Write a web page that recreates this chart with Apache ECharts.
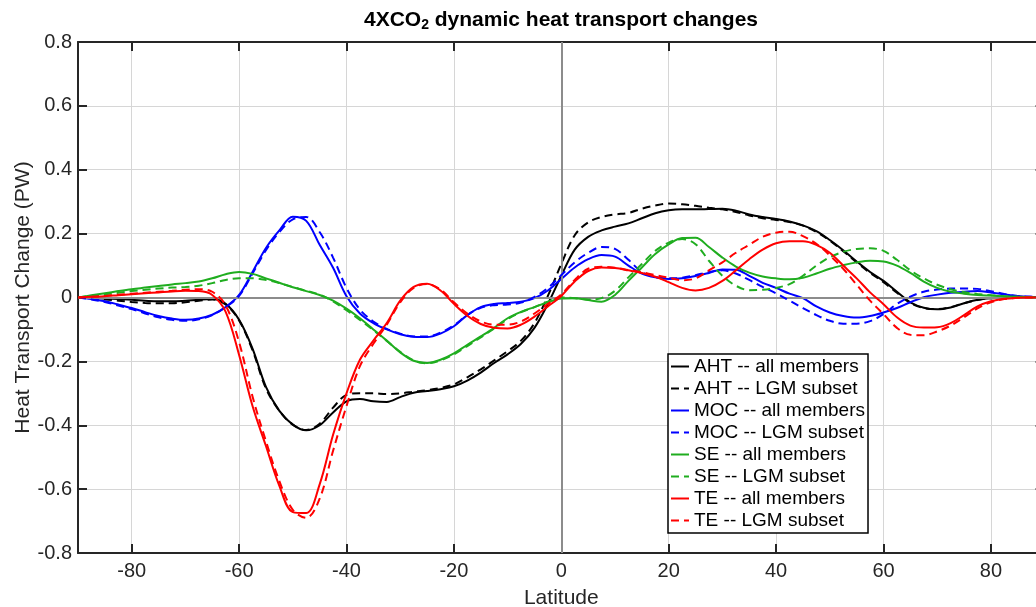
<!DOCTYPE html>
<html>
<head>
<meta charset="utf-8">
<script src="https://cdn.jsdelivr.net/npm/echarts@6/dist/echarts.min.js"></script>
<style>
html,body{margin:0;padding:0;overflow:hidden;background:#fff;}
#chart{width:1050px;height:607px;}
</style>
</head>
<body>
<div id="chart"></div>
<script>
// Latitude grid (degrees)
const latitudes = [-90,-87.5,-85,-82.5,-80,-77.5,-75,-72.5,-70,-67.5,-65,-62.5,-60,-57.5,-55,-52.5,-50,-47.5,-45,-42.5,-40,-37.5,-35,-32.5,-30,-27.5,-25,-22.5,-20,-17.5,-15,-12.5,-10,-7.5,-5,-2.5,0,2.5,5,7.5,10,12.5,15,17.5,20,22.5,25,27.5,30,32.5,35,37.5,40,42.5,45,47.5,50,52.5,55,57.5,60,62.5,65,67.5,70,72.5,75,77.5,80,82.5,85,87.5,90];

const ahtAll = [0,-0.001,-0.003,-0.005,-0.007,-0.010,-0.012,-0.012,-0.010,-0.007,-0.005,-0.02,-0.07,-0.16,-0.28,-0.355,-0.398,-0.416,-0.400,-0.36,-0.325,-0.318,-0.325,-0.327,-0.312,-0.298,-0.293,-0.287,-0.278,-0.26,-0.235,-0.205,-0.178,-0.145,-0.095,-0.02,0.068,0.15,0.19,0.21,0.222,0.232,0.248,0.264,0.273,0.276,0.276,0.277,0.278,0.272,0.26,0.252,0.246,0.238,0.226,0.208,0.18,0.148,0.113,0.08,0.052,0.018,-0.015,-0.032,-0.037,-0.031,-0.018,-0.007,-0.002,0,0,0,0];
const ahtLgm = [0,-0.002,-0.006,-0.01,-0.014,-0.017,-0.018,-0.018,-0.015,-0.01,-0.006,-0.022,-0.072,-0.165,-0.285,-0.355,-0.398,-0.415,-0.395,-0.345,-0.305,-0.3,-0.3,-0.302,-0.3,-0.295,-0.29,-0.283,-0.272,-0.25,-0.225,-0.197,-0.168,-0.135,-0.08,0.005,0.105,0.195,0.235,0.252,0.26,0.265,0.278,0.288,0.294,0.292,0.287,0.281,0.276,0.268,0.257,0.248,0.243,0.236,0.225,0.205,0.178,0.145,0.11,0.077,0.048,0.015,-0.017,-0.033,-0.036,-0.03,-0.018,-0.008,-0.002,0,0,0,0];
const mocAll = [0,-0.005,-0.012,-0.022,-0.033,-0.046,-0.058,-0.066,-0.07,-0.066,-0.054,-0.03,0.008,0.08,0.155,0.21,0.253,0.24,0.165,0.093,0.004,-0.05,-0.08,-0.1,-0.115,-0.123,-0.124,-0.113,-0.09,-0.055,-0.03,-0.02,-0.017,-0.013,-0.002,0.022,0.058,0.094,0.12,0.133,0.128,0.1,0.075,0.063,0.058,0.06,0.067,0.077,0.088,0.087,0.068,0.046,0.03,0.012,-0.002,-0.028,-0.047,-0.058,-0.063,-0.058,-0.047,-0.033,-0.015,0.001,0.009,0.015,0.018,0.02,0.016,0.01,0.005,0.002,0];
const mocLgm = [0,-0.006,-0.014,-0.025,-0.036,-0.05,-0.062,-0.07,-0.073,-0.068,-0.055,-0.03,0.005,0.075,0.148,0.205,0.245,0.252,0.205,0.125,0.03,-0.038,-0.075,-0.098,-0.113,-0.122,-0.122,-0.11,-0.087,-0.055,-0.032,-0.024,-0.022,-0.016,0.002,0.03,0.07,0.11,0.14,0.158,0.152,0.118,0.08,0.064,0.06,0.062,0.07,0.08,0.085,0.075,0.055,0.033,0.013,-0.01,-0.033,-0.055,-0.073,-0.082,-0.082,-0.074,-0.052,-0.02,0.003,0.018,0.025,0.028,0.028,0.027,0.02,0.011,0.005,0.002,0];
const seAll = [0,0.007,0.0135,0.02,0.026,0.031,0.036,0.041,0.045,0.05,0.06,0.073,0.08,0.074,0.06,0.046,0.032,0.02,0.008,-0.01,-0.035,-0.065,-0.1,-0.135,-0.172,-0.198,-0.205,-0.195,-0.175,-0.148,-0.122,-0.095,-0.065,-0.045,-0.03,-0.015,-0.003,-0.002,-0.008,-0.013,0.008,0.052,0.094,0.136,0.166,0.186,0.187,0.158,0.125,0.097,0.078,0.066,0.06,0.057,0.062,0.075,0.09,0.101,0.11,0.115,0.113,0.1,0.077,0.05,0.03,0.018,0.012,0.008,0.006,0.004,0.002,0.001,0];
const seLgm = [0,0.005,0.01,0.015,0.02,0.024,0.028,0.031,0.033,0.037,0.045,0.055,0.06,0.06,0.055,0.045,0.033,0.021,0.009,-0.012,-0.04,-0.07,-0.102,-0.136,-0.17,-0.197,-0.206,-0.197,-0.178,-0.152,-0.125,-0.097,-0.068,-0.046,-0.03,-0.013,0.0,-0.002,-0.006,-0.002,0.021,0.063,0.105,0.146,0.172,0.183,0.167,0.115,0.068,0.037,0.023,0.024,0.03,0.042,0.068,0.1,0.126,0.143,0.152,0.154,0.146,0.118,0.085,0.06,0.04,0.026,0.017,0.011,0.007,0.004,0.002,0.001,0];
const teAll = [0,0.002,0.004,0.007,0.01,0.013,0.016,0.019,0.021,0.02,0.008,-0.045,-0.18,-0.34,-0.465,-0.59,-0.672,-0.675,-0.585,-0.43,-0.3,-0.195,-0.135,-0.08,-0.01,0.033,0.043,0.022,-0.02,-0.057,-0.083,-0.095,-0.097,-0.085,-0.06,-0.028,0.005,0.05,0.083,0.094,0.092,0.085,0.077,0.065,0.048,0.03,0.022,0.03,0.052,0.085,0.12,0.15,0.17,0.176,0.176,0.165,0.14,0.1,0.06,0.016,-0.021,-0.062,-0.088,-0.094,-0.093,-0.08,-0.055,-0.028,-0.012,-0.004,-0.001,0,0];
const teLgm = [0,0.002,0.005,0.009,0.012,0.015,0.018,0.021,0.024,0.026,0.018,-0.025,-0.14,-0.31,-0.45,-0.575,-0.665,-0.69,-0.63,-0.48,-0.34,-0.215,-0.145,-0.085,-0.015,0.03,0.042,0.025,-0.015,-0.05,-0.075,-0.085,-0.085,-0.075,-0.05,-0.02,0.01,0.055,0.09,0.096,0.093,0.086,0.079,0.07,0.062,0.054,0.06,0.085,0.11,0.14,0.165,0.19,0.203,0.206,0.192,0.168,0.132,0.09,0.04,-0.01,-0.052,-0.095,-0.117,-0.118,-0.106,-0.088,-0.062,-0.034,-0.015,-0.005,-0.001,0,0];

const seriesNames = ['AHT -- all members','AHT -- LGM subset','MOC -- all members','MOC -- LGM subset','SE -- all members','SE -- LGM subset','TE -- all members','TE -- LGM subset'];
const xTickValues = [-80,-60,-40,-20,0,20,40,60,80];

const FONT = '"Liberation Sans", Arial, Helvetica, sans-serif';
const colors = ['#000000','#000000','#0000ff','#0000ff','#1fad1f','#1fad1f','#ff0000','#ff0000'];
const dataSets = [ahtAll, ahtLgm, mocAll, mocLgm, seAll, seLgm, teAll, teLgm];

function pairs(vals){ return latitudes.map((l,i)=>[l, vals[i]]); }

const series = [{
  type:'line', data:[], z:1, silent:true,
  markLine:{
    silent:true, symbol:['none','none'], label:{show:false}, animation:false,
    lineStyle:{color:'#8c8c8c', width:2, type:'solid'},
    emphasis:{disabled:true},
    data:[{xAxis:0},{yAxis:0}]
  }
}];
dataSets.forEach((d,i)=>{
  series.push({
    name: seriesNames[i], type:'line', data: pairs(d), z:2+i,
    smooth: 0.35, symbol:'none', showSymbol:false,
    lineStyle:{color:colors[i], width:2, type: (i%2===1)?[8,5]:'solid'},
    itemStyle:{color:colors[i]},
    emphasis:{disabled:true}
  });
});

const axisLineStyle = {show:true, onZero:false, lineStyle:{color:'#262626', width:2}};
const chart = echarts.init(document.getElementById('chart'), null, {renderer:'canvas'});
chart.setOption({
  animation:false,
  backgroundColor:'#ffffff',
  title:{
    text:'{m|4XCO}{s|2}{m| dynamic heat transport changes}',
    left:561, textAlign:'center', top:10, padding:0,
    textStyle:{
      fontFamily:FONT, fontSize:21, fontWeight:'bold', color:'#000',
      rich:{
        m:{fontFamily:FONT, fontSize:21, fontWeight:'bold', color:'#000', verticalAlign:'top', lineHeight:22},
        s:{fontFamily:FONT, fontSize:14, fontWeight:'bold', color:'#000', verticalAlign:'bottom', lineHeight:14, padding:[14,0,0,0]}
      }
    }
  },
  grid:{left:78, right:5.4, top:42, bottom:54, show:false, outerBoundsMode:'none', containLabel:false},
  legend:{
    orient:'vertical', left:668, top:354,
    data: seriesNames,
    itemWidth:18, itemHeight:12, itemGap:3,
    padding:[3,3,3,2],
    borderColor:'#000', borderWidth:1.5, backgroundColor:'#fff',
    itemStyle:{color:'rgba(0,0,0,0)', borderWidth:0, opacity:0},
    textStyle:{fontFamily:FONT, fontSize:19, color:'#000'},
    selectedMode:false
  },
  xAxis:[{
    type:'value', min:-90, max:90, position:'bottom',
    name:'Latitude', nameLocation:'middle', nameGap:35,
    nameTextStyle:{fontFamily:FONT, fontSize:21, color:'#262626'},
    axisLine:axisLineStyle,
    axisTick:{show:true, inside:true, length:9, customValues:xTickValues, lineStyle:{color:'#262626', width:2}},
    axisLabel:{show:true, customValues:xTickValues, margin:8, fontFamily:FONT, fontSize:20, color:'#262626'},
    splitLine:{show:true, customValues:xTickValues, lineStyle:{color:'#d6d6d6', width:1}}
  },{
    type:'value', min:-90, max:90, position:'top',
    axisLine:axisLineStyle,
    axisTick:{show:true, inside:true, length:9, customValues:xTickValues, lineStyle:{color:'#262626', width:2}},
    axisLabel:{show:false},
    splitLine:{show:false}
  }],
  yAxis:[{
    type:'value', min:-0.8, max:0.8, interval:0.2, position:'left',
    name:'Heat Transport Change (PW)', nameLocation:'middle', nameGap:44, nameMoveOverlap:false,
    nameTextStyle:{fontFamily:FONT, fontSize:21, color:'#262626'},
    axisLine:axisLineStyle,
    axisTick:{show:true, inside:true, length:9, lineStyle:{color:'#262626', width:2}},
    axisLabel:{show:true, margin:6, fontFamily:FONT, fontSize:20, color:'#262626',
      formatter:(v)=> (Math.abs(v)<1e-9 ? '0' : (Math.round(v*10)/10).toFixed(1))},
    splitLine:{show:true, lineStyle:{color:'#d6d6d6', width:1}}
  },{
    type:'value', min:-0.8, max:0.8, interval:0.2, position:'right',
    axisLine:axisLineStyle,
    axisTick:{show:true, inside:true, length:9, lineStyle:{color:'#262626', width:2}},
    axisLabel:{show:false},
    splitLine:{show:false}
  }],
  series: series
});
</script>
</body>
</html>
